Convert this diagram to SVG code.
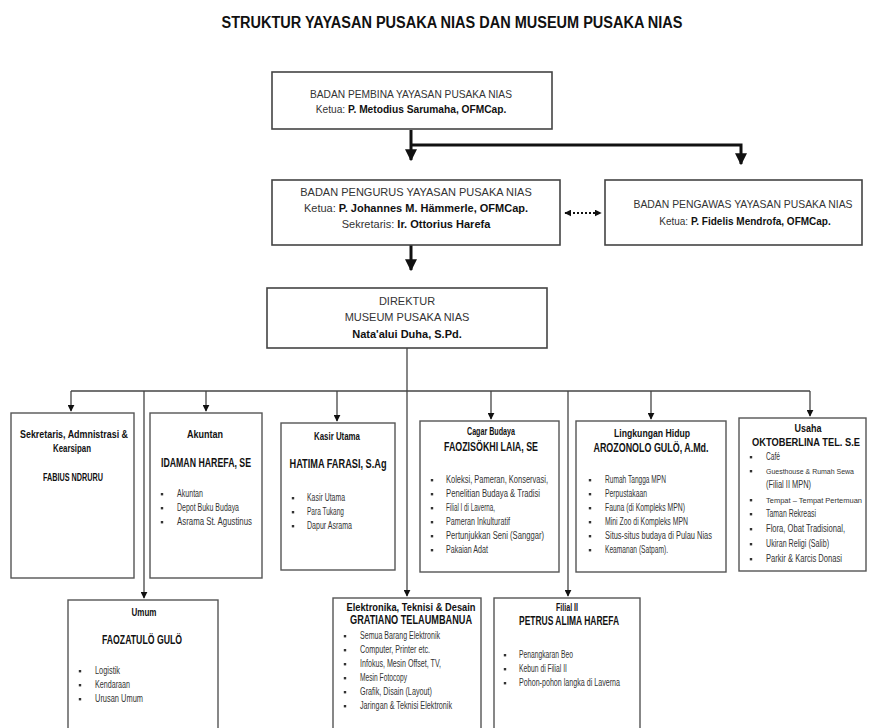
<svg xmlns="http://www.w3.org/2000/svg" width="869" height="728" viewBox="0 0 869 728">
<style>
text{font-family:"Liberation Sans",Arial,sans-serif;fill:#333}
.t{font-size:16px;font-weight:bold;fill:#111;text-anchor:middle}
.h{font-size:11px;text-anchor:middle}
.b{font-weight:bold;fill:#111}
.hb{font-size:12px;font-weight:bold;fill:#111;text-anchor:middle}
.hs{font-size:11px;font-weight:bold;fill:#111;text-anchor:middle}
.s{font-size:10px;fill:#333}
.box{fill:#fff;stroke:#444;stroke-width:1.6}
.bx2{fill:#fff;stroke:#555;stroke-width:1.4}
.thick{fill:none;stroke:#111;stroke-width:3}
.thin{fill:none;stroke:#444;stroke-width:1.3}
.dot{fill:none;stroke:#111;stroke-width:2;stroke-dasharray:2 2}
</style>
<defs>
<marker id="a" viewBox="0 0 10 10" refX="9" refY="5" markerWidth="7" markerHeight="7" markerUnits="userSpaceOnUse" orient="auto"><path d="M0,0 L10,5 L0,10 z" fill="#111"/></marker>
<marker id="A" viewBox="0 0 10 10" refX="9" refY="5" markerWidth="4" markerHeight="4" orient="auto"><path d="M0,0 L10,5 L0,10 z" fill="#111"/></marker>
<marker id="d" viewBox="0 0 10 10" refX="9" refY="5" markerWidth="3.5" markerHeight="3.5" orient="auto-start-reverse"><path d="M0,0 L10,5 L0,10 z" fill="#111"/></marker>
<symbol id="bul" overflow="visible"><rect x="-1.2" y="-4" width="2.4" height="2.4" fill="#333"/></symbol>
</defs>

<text class="t" x="452" y="28" textLength="461" lengthAdjust="spacingAndGlyphs">STRUKTUR YAYASAN PUSAKA NIAS DAN MUSEUM PUSAKA NIAS</text>

<g id="connectors">
<path class="thick" d="M411,130 V160" marker-end="url(#A)"/>
<path class="thick" d="M411,145 H741 V164" marker-end="url(#A)"/>
<path class="dot" d="M565,213 H601" marker-start="url(#d)" marker-end="url(#d)"/>
<path class="thick" d="M411,245 V270" marker-end="url(#A)"/>
<path class="thin" d="M407,348 V391"/>
<path class="thin" d="M71,391 H810"/>
<path class="thin" d="M71,391 V411" marker-end="url(#a)"/>
<path class="thin" d="M206,391 V411" marker-end="url(#a)"/>
<path class="thin" d="M337,391 V421" marker-end="url(#a)"/>
<path class="thin" d="M491,391 V419" marker-end="url(#a)"/>
<path class="thin" d="M651,391 V419" marker-end="url(#a)"/>
<path class="thin" d="M810,391 V416" marker-end="url(#a)"/>
<path class="thin" d="M144,391 V598" marker-end="url(#a)"/>
<path class="thin" d="M407,391 V596" marker-end="url(#a)"/>
<path class="thin" d="M568,391 V596" marker-end="url(#a)"/>
</g>

<g id="pembina">
<rect class="box" x="272" y="72" width="280" height="57"/>
<text class="h" x="411" y="98" style="font-size:10.2px">BADAN PEMBINA YAYASAN PUSAKA NIAS</text>
<text class="h" x="411" y="113" style="font-size:10.2px">Ketua: <tspan class="b">P. Metodius Sarumaha, OFMCap.</tspan></text>
</g>

<g id="pengurus">
<rect class="box" x="272" y="180" width="288" height="65"/>
<text class="h" x="416" y="196">BADAN PENGURUS YAYASAN PUSAKA NIAS</text>
<text class="h" x="416" y="212">Ketua: <tspan class="b">P. Johannes M. Hämmerle, OFMCap.</tspan></text>
<text class="h" x="416" y="228">Sekretaris: <tspan class="b">Ir. Ottorius Harefa</tspan></text>
</g>

<g id="pengawas">
<rect class="box" x="605" y="180" width="257" height="65"/>
<text class="h" x="743" y="208" style="font-size:10.4px">BADAN PENGAWAS YAYASAN PUSAKA NIAS</text>
<text class="h" x="745" y="225" style="font-size:10px">Ketua: <tspan class="b">P. Fidelis Mendrofa, OFMCap.</tspan></text>
</g>

<g id="direktur">
<rect class="box" x="267" y="288" width="280" height="60"/>
<text class="h" x="407" y="305">DIREKTUR</text>
<text class="h" x="407" y="321">MUSEUM PUSAKA NIAS</text>
<text class="h b" x="407" y="338">Nata'alui Duha, S.Pd.</text>
</g>

<g id="sekretaris">
<rect class="bx2" x="11" y="413" width="123" height="165"/>
<text class="hs" x="74" y="438" textLength="108" lengthAdjust="spacingAndGlyphs">Sekretaris, Admnistrasi &amp;</text>
<text class="hs" x="72" y="452" textLength="38" lengthAdjust="spacingAndGlyphs">Kearsipan</text>
<text class="hs" x="73" y="481" textLength="60" lengthAdjust="spacingAndGlyphs">FABIUS NDRURU</text>
</g>

<g id="akuntan">
<rect class="bx2" x="150" y="413" width="112" height="165"/>
<text class="hs" x="205" y="438" textLength="36" lengthAdjust="spacingAndGlyphs">Akuntan</text>
<text class="hb" x="206" y="467" textLength="90" lengthAdjust="spacingAndGlyphs">IDAMAN HAREFA, SE</text>
<use href="#bul" x="162" y="497"/><text class="s" x="177" y="497" textLength="26" lengthAdjust="spacingAndGlyphs">Akuntan</text>
<use href="#bul" x="162" y="511"/><text class="s" x="177" y="511" textLength="62" lengthAdjust="spacingAndGlyphs">Depot Buku Budaya</text>
<use href="#bul" x="162" y="525"/><text class="s" x="177" y="525" textLength="75" lengthAdjust="spacingAndGlyphs">Asrama St. Agustinus</text>
</g>

<g id="kasir">
<rect class="bx2" x="281" y="423" width="114" height="147"/>
<text class="hs" x="337" y="440" textLength="46" lengthAdjust="spacingAndGlyphs">Kasir Utama</text>
<text class="hb" x="338" y="468" textLength="97" lengthAdjust="spacingAndGlyphs">HATIMA FARASI, S.Ag</text>
<use href="#bul" x="293" y="501"/><text class="s" x="307" y="501" textLength="38" lengthAdjust="spacingAndGlyphs">Kasir Utama</text>
<use href="#bul" x="293" y="515"/><text class="s" x="307" y="515" textLength="37" lengthAdjust="spacingAndGlyphs">Para Tukang</text>
<use href="#bul" x="293" y="529"/><text class="s" x="307" y="529" textLength="45" lengthAdjust="spacingAndGlyphs">Dapur Asrama</text>
</g>

<g id="cagar">
<rect class="bx2" x="420" y="421" width="139" height="151"/>
<text class="hs" x="491" y="435" textLength="48" lengthAdjust="spacingAndGlyphs">Cagar Budaya</text>
<text class="hb" x="491" y="451" textLength="94" lengthAdjust="spacingAndGlyphs">FAOZISÖKHI LAIA, SE</text>
<use href="#bul" x="432" y="483"/><text class="s" x="446" y="483" textLength="102" lengthAdjust="spacingAndGlyphs">Koleksi, Pameran, Konservasi,</text>
<use href="#bul" x="432" y="497"/><text class="s" x="446" y="497" textLength="94" lengthAdjust="spacingAndGlyphs">Penelitian Budaya &amp; Tradisi</text>
<use href="#bul" x="432" y="511"/><text class="s" x="446" y="511" textLength="49" lengthAdjust="spacingAndGlyphs">Filial I di Laverna,</text>
<use href="#bul" x="432" y="525"/><text class="s" x="446" y="525" textLength="64" lengthAdjust="spacingAndGlyphs">Pameran Inkulturatif</text>
<use href="#bul" x="432" y="539"/><text class="s" x="446" y="539" textLength="98" lengthAdjust="spacingAndGlyphs">Pertunjukkan Seni (Sanggar)</text>
<use href="#bul" x="432" y="553"/><text class="s" x="446" y="553" textLength="42" lengthAdjust="spacingAndGlyphs">Pakaian Adat</text>
</g>

<g id="lingkungan">
<rect class="bx2" x="576" y="421" width="150" height="151"/>
<text class="hs" x="652" y="437" textLength="76" lengthAdjust="spacingAndGlyphs">Lingkungan Hidup</text>
<text class="hb" x="651" y="452" textLength="115" lengthAdjust="spacingAndGlyphs">AROZONOLO GULÖ, A.Md.</text>
<use href="#bul" x="590" y="483"/><text class="s" x="605" y="483" textLength="61" lengthAdjust="spacingAndGlyphs">Rumah Tangga MPN</text>
<use href="#bul" x="590" y="497"/><text class="s" x="605" y="497" textLength="42" lengthAdjust="spacingAndGlyphs">Perpustakaan</text>
<use href="#bul" x="590" y="511"/><text class="s" x="605" y="511" textLength="80" lengthAdjust="spacingAndGlyphs">Fauna (di Kompleks MPN)</text>
<use href="#bul" x="590" y="525"/><text class="s" x="605" y="525" textLength="83" lengthAdjust="spacingAndGlyphs">Mini Zoo di Kompleks MPN</text>
<use href="#bul" x="590" y="539"/><text class="s" x="605" y="539" textLength="107" lengthAdjust="spacingAndGlyphs">Situs-situs budaya di Pulau Nias</text>
<use href="#bul" x="590" y="553"/><text class="s" x="605" y="553" textLength="63" lengthAdjust="spacingAndGlyphs">Keamanan (Satpam).</text>
</g>

<g id="usaha">
<rect class="bx2" x="739" y="418" width="127" height="153"/>
<text class="hs" x="808" y="432" textLength="27" lengthAdjust="spacingAndGlyphs">Usaha</text>
<text class="hb" x="806" y="446" style="font-size:10px" textLength="108" lengthAdjust="spacingAndGlyphs">OKTOBERLINA TEL. S.E</text>
<use href="#bul" x="751" y="460"/><text class="s" x="766" y="460" textLength="14" lengthAdjust="spacingAndGlyphs">Café</text>
<use href="#bul" x="751" y="474"/><text class="s" x="766" y="474" style="font-size:8px" textLength="88" lengthAdjust="spacingAndGlyphs">Guesthouse &amp; Rumah Sewa</text>
<text class="s" x="766" y="488" textLength="45" lengthAdjust="spacingAndGlyphs">(Filial II MPN)</text>
<use href="#bul" x="751" y="503"/><text class="s" x="766" y="503" style="font-size:7.5px" textLength="96" lengthAdjust="spacingAndGlyphs">Tempat – Tempat Pertemuan</text>
<use href="#bul" x="751" y="517"/><text class="s" x="766" y="517" textLength="50" lengthAdjust="spacingAndGlyphs">Taman Rekreasi</text>
<use href="#bul" x="751" y="532"/><text class="s" x="766" y="532" textLength="79" lengthAdjust="spacingAndGlyphs">Flora, Obat Tradisional,</text>
<use href="#bul" x="751" y="547"/><text class="s" x="766" y="547" textLength="63" lengthAdjust="spacingAndGlyphs">Ukiran Religi (Salib)</text>
<use href="#bul" x="751" y="562"/><text class="s" x="766" y="562" textLength="76" lengthAdjust="spacingAndGlyphs">Parkir &amp; Karcis Donasi</text>
</g>

<g id="umum">
<rect class="bx2" x="68" y="600" width="150" height="140"/>
<text class="hs" x="144" y="616" textLength="25" lengthAdjust="spacingAndGlyphs">Umum</text>
<text class="hb" x="142" y="644" textLength="80" lengthAdjust="spacingAndGlyphs">FAOZATULÖ GULÖ</text>
<use href="#bul" x="80" y="674"/><text class="s" x="95" y="674" textLength="25" lengthAdjust="spacingAndGlyphs">Logistik</text>
<use href="#bul" x="80" y="688"/><text class="s" x="95" y="688" textLength="35" lengthAdjust="spacingAndGlyphs">Kendaraan</text>
<use href="#bul" x="80" y="702"/><text class="s" x="95" y="702" textLength="48" lengthAdjust="spacingAndGlyphs">Urusan Umum</text>
</g>

<g id="elektronika">
<rect class="bx2" x="333" y="598" width="148" height="140"/>
<text class="hs" x="411" y="611" textLength="129" lengthAdjust="spacingAndGlyphs">Elektronika, Teknisi &amp; Desain</text>
<text class="hb" x="411" y="624" textLength="122" lengthAdjust="spacingAndGlyphs">GRATIANO TELAUMBANUA</text>
<use href="#bul" x="345" y="639"/><text class="s" x="360" y="639" textLength="80" lengthAdjust="spacingAndGlyphs">Semua Barang Elektronik</text>
<use href="#bul" x="345" y="653"/><text class="s" x="360" y="653" textLength="70" lengthAdjust="spacingAndGlyphs">Computer, Printer etc.</text>
<use href="#bul" x="345" y="667"/><text class="s" x="360" y="667" textLength="81" lengthAdjust="spacingAndGlyphs">Infokus, Mesin Offset, TV,</text>
<use href="#bul" x="345" y="681"/><text class="s" x="360" y="681" textLength="47" lengthAdjust="spacingAndGlyphs">Mesin Fotocopy</text>
<use href="#bul" x="345" y="695"/><text class="s" x="360" y="695" textLength="72" lengthAdjust="spacingAndGlyphs">Grafik, Disain (Layout)</text>
<use href="#bul" x="345" y="709"/><text class="s" x="360" y="709" textLength="92" lengthAdjust="spacingAndGlyphs">Jaringan &amp; Teknisi Elektronik</text>
</g>

<g id="filial2">
<rect class="bx2" x="494" y="598" width="146" height="140"/>
<text class="hs" x="567" y="611" textLength="22" lengthAdjust="spacingAndGlyphs">Filial II</text>
<text class="hb" x="569" y="625" textLength="100" lengthAdjust="spacingAndGlyphs">PETRUS ALIMA HAREFA</text>
<use href="#bul" x="505" y="658"/><text class="s" x="519" y="658" textLength="54" lengthAdjust="spacingAndGlyphs">Penangkaran Beo</text>
<use href="#bul" x="505" y="672"/><text class="s" x="519" y="672" textLength="48" lengthAdjust="spacingAndGlyphs">Kebun di  Filial II</text>
<use href="#bul" x="505" y="686"/><text class="s" x="519" y="686" textLength="101" lengthAdjust="spacingAndGlyphs">Pohon-pohon langka di Laverna</text>
</g>
</svg>
